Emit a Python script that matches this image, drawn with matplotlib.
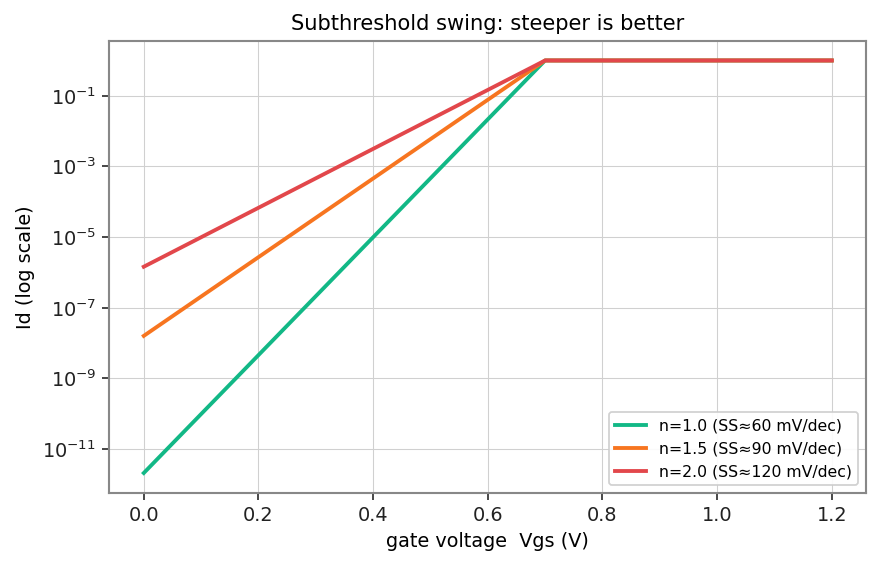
import numpy as np
import matplotlib
matplotlib.use('Agg')
import matplotlib.pyplot as plt

# gate voltage points (V) and drain current
vgs = [0.0, 0.7, 1.2]
id_n10 = [2.1e-12, 1.0, 1.0]
id_n15 = [1.6e-8, 1.0, 1.0]
id_n20 = [1.45e-6, 1.0, 1.0]
labels = ['n=1.0 (SS≈60 mV/dec)', 'n=1.5 (SS≈90 mV/dec)', 'n=2.0 (SS≈120 mV/dec)']
colors = ['#12b886', '#f77520', '#e2474b']

fig, ax = plt.subplots(figsize=(7, 4.5), dpi=126)

for y, lab, c in zip([id_n10, id_n15, id_n20], labels, colors):
    ax.plot(vgs, y, color=c, lw=2.2, label=lab)

ax.set_yscale('log')
ax.set_yticks([1e-11, 1e-9, 1e-7, 1e-5, 1e-3, 1e-1])
ax.minorticks_off()
ax.set_ylim(5.6e-13, 3.6)
ax.set_xlim(-0.06, 1.26)

ax.grid(True, color='#d0d0d0', lw=0.6)
ax.set_axisbelow(True)
for s in ax.spines.values():
    s.set_color('#888888')
    s.set_linewidth(1.2)
ax.tick_params(colors='#222222', labelsize=11, length=4, width=1.1)
ax.tick_params(axis='both', color='#444444')

ax.set_title('Subthreshold swing: steeper is better', fontsize=12)
ax.set_xlabel('gate voltage  Vgs (V)', fontsize=11)
ax.set_ylabel('Id (log scale)', fontsize=11)
ax.legend(loc='lower right', fontsize=9, framealpha=0.9, edgecolor='#cccccc')

fig.subplots_adjust(left=0.124, right=0.982, top=0.928, bottom=0.13)
fig.savefig('out.png')
